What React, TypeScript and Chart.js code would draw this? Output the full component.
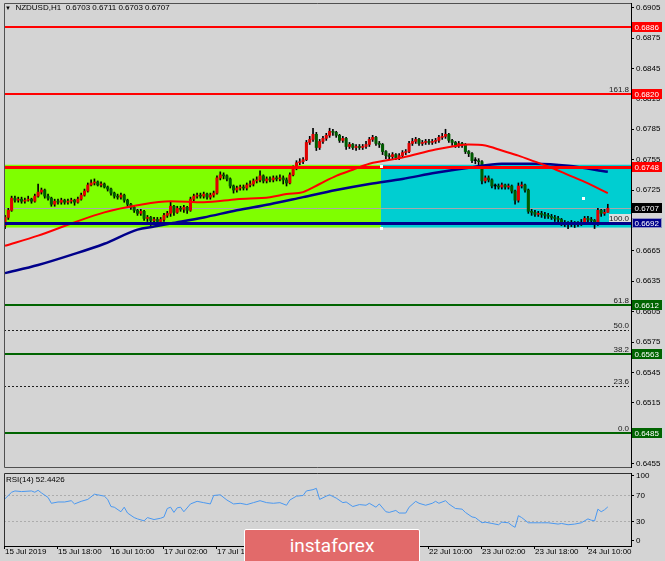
import React, { useEffect, useRef } from "react";
import { Chart, registerables } from "chart.js";

Chart.register(...registerables);

// ---------------- data ----------------
const openPrices = [
  0.6690,0.6698,0.6705,0.6717,0.6715,0.6716,0.6714,0.6715,0.6716,0.6714,
  0.6719,0.6723,0.6725,0.6719,0.6717,0.6711,0.6714,0.6713,0.6715,0.6713,
  0.6714,0.6715,0.6713,0.6716,0.6720,0.6724,0.6730,0.6732,0.6733,0.6730,
  0.6731,0.6728,0.6726,0.6722,0.6719,0.6718,0.6720,0.6715,0.6711,0.6708,
  0.6705,0.6702,0.6704,0.6697,0.6698,0.6695,0.6696,0.6694,0.6696,0.6700,
  0.6702,0.6709,0.6703,0.6707,0.6706,0.6708,0.6705,0.6716,0.6719,0.6720,
  0.6719,0.6721,0.6718,0.6720,0.6722,0.6737,0.6740,0.6739,0.6736,0.6729,
  0.6725,0.6727,0.6728,0.6727,0.6730,0.6731,0.6734,0.6735,0.6739,0.6734,
  0.6736,0.6735,0.6737,0.6736,0.6737,0.6735,0.6732,0.6740,0.6747,0.6752,
  0.6753,0.6755,0.6772,0.6775,0.6780,0.6767,0.6773,0.6776,0.6779,0.6783,
  0.6782,0.6779,0.6774,0.6776,0.6768,0.6770,0.6767,0.6768,0.6767,0.6768,
  0.6770,0.6775,0.6777,0.6771,0.6770,0.6763,0.6759,0.6758,0.6760,0.6757,
  0.6759,0.6762,0.6763,0.6771,0.6773,0.6775,0.6771,0.6772,0.6773,0.6772,
  0.6773,0.6774,0.6777,0.6778,0.6780,0.6774,0.6772,0.6769,0.6771,0.6770,
  0.6763,0.6761,0.6754,0.6754,0.6753,0.6734,0.6737,0.6735,0.6729,0.6729,
  0.6728,0.6730,0.6728,0.6729,0.6724,0.6715,0.6729,0.6730,0.6725,0.6704,
  0.6703,0.6701,0.6702,0.6701,0.6700,0.6699,0.6698,0.6697,0.6696,0.6693,
  0.6692,0.6692,0.6692,0.6691,0.6692,0.6693,0.6697,0.6696,0.6695,0.6692,
  0.6705,0.6702,0.6703,
];
const highPrices = [
  0.6700,0.6707,0.6719,0.6719,0.6718,0.6718,0.6717,0.6719,0.6717,0.6721,
  0.6731,0.6727,0.6726,0.6721,0.6718,0.6716,0.6716,0.6717,0.6716,0.6716,
  0.6717,0.6716,0.6718,0.6722,0.6726,0.6732,0.6735,0.6736,0.6734,0.6733,
  0.6732,0.6729,0.6727,0.6723,0.6721,0.6722,0.6721,0.6716,0.6712,0.6709,
  0.6706,0.6706,0.6705,0.6700,0.6699,0.6698,0.6698,0.6698,0.6702,0.6704,
  0.6713,0.6710,0.6709,0.6709,0.6710,0.6709,0.6718,0.6721,0.6722,0.6722,
  0.6723,0.6722,0.6722,0.6724,0.6739,0.6743,0.6742,0.6740,0.6737,0.6730,
  0.6729,0.6730,0.6730,0.6732,0.6734,0.6736,0.6738,0.6744,0.6740,0.6738,
  0.6738,0.6739,0.6739,0.6740,0.6739,0.6737,0.6742,0.6749,0.6754,0.6756,
  0.6757,0.6774,0.6778,0.6786,0.6782,0.6775,0.6778,0.6781,0.6786,0.6785,
  0.6783,0.6780,0.6778,0.6777,0.6772,0.6771,0.6770,0.6770,0.6770,0.6773,
  0.6777,0.6779,0.6778,0.6773,0.6771,0.6764,0.6761,0.6762,0.6761,0.6761,
  0.6764,0.6765,0.6773,0.6776,0.6777,0.6776,0.6774,0.6775,0.6775,0.6775,
  0.6776,0.6779,0.6781,0.6785,0.6781,0.6775,0.6773,0.6773,0.6772,0.6771,
  0.6764,0.6762,0.6757,0.6756,0.6754,0.6739,0.6739,0.6736,0.6731,0.6731,
  0.6732,0.6731,0.6731,0.6730,0.6725,0.6732,0.6733,0.6731,0.6726,0.6706,
  0.6705,0.6704,0.6704,0.6703,0.6702,0.6701,0.6700,0.6699,0.6697,0.6695,
  0.6694,0.6695,0.6694,0.6694,0.6696,0.6699,0.6699,0.6698,0.6696,0.6707,
  0.6706,0.6706,0.6711,
];
const lowPrices = [
  0.6687,0.6696,0.6704,0.6713,0.6713,0.6712,0.6712,0.6714,0.6712,0.6713,
  0.6718,0.6721,0.6717,0.6715,0.6709,0.6709,0.6711,0.6711,0.6711,0.6711,
  0.6712,0.6710,0.6712,0.6715,0.6719,0.6723,0.6729,0.6730,0.6729,0.6728,
  0.6727,0.6724,0.6720,0.6717,0.6716,0.6716,0.6713,0.6709,0.6706,0.6703,
  0.6700,0.6700,0.6695,0.6694,0.6690,0.6692,0.6689,0.6692,0.6694,0.6698,
  0.6699,0.6700,0.6702,0.6704,0.6703,0.6702,0.6704,0.6714,0.6717,0.6717,
  0.6717,0.6716,0.6716,0.6718,0.6721,0.6735,0.6736,0.6734,0.6727,0.6722,
  0.6723,0.6725,0.6725,0.6725,0.6728,0.6729,0.6732,0.6733,0.6732,0.6732,
  0.6733,0.6733,0.6734,0.6734,0.6731,0.6729,0.6731,0.6739,0.6745,0.6750,
  0.6751,0.6754,0.6770,0.6773,0.6764,0.6765,0.6771,0.6774,0.6777,0.6779,
  0.6777,0.6772,0.6772,0.6765,0.6766,0.6765,0.6764,0.6765,0.6765,0.6766,
  0.6768,0.6773,0.6769,0.6767,0.6760,0.6756,0.6755,0.6756,0.6755,0.6755,
  0.6757,0.6760,0.6762,0.6769,0.6771,0.6769,0.6769,0.6770,0.6770,0.6770,
  0.6771,0.6772,0.6775,0.6776,0.6772,0.6769,0.6767,0.6767,0.6767,0.6761,
  0.6758,0.6752,0.6751,0.6750,0.6731,0.6732,0.6733,0.6727,0.6726,0.6726,
  0.6726,0.6726,0.6726,0.6722,0.6711,0.6713,0.6727,0.6723,0.6702,0.6700,
  0.6699,0.6699,0.6698,0.6697,0.6697,0.6696,0.6694,0.6693,0.6690,0.6689,
  0.6687,0.6689,0.6688,0.6689,0.6690,0.6691,0.6693,0.6692,0.6687,0.6690,
  0.6699,0.6700,0.6703,
];
const closePrices = [
  0.6698,0.6705,0.6717,0.6715,0.6716,0.6714,0.6715,0.6716,0.6714,0.6719,
  0.6723,0.6725,0.6719,0.6717,0.6711,0.6714,0.6713,0.6715,0.6713,0.6714,
  0.6715,0.6713,0.6716,0.6720,0.6724,0.6730,0.6732,0.6733,0.6730,0.6731,
  0.6728,0.6726,0.6722,0.6719,0.6718,0.6720,0.6715,0.6711,0.6708,0.6705,
  0.6702,0.6704,0.6697,0.6698,0.6695,0.6696,0.6694,0.6696,0.6700,0.6702,
  0.6709,0.6703,0.6707,0.6706,0.6708,0.6705,0.6716,0.6719,0.6720,0.6719,
  0.6721,0.6718,0.6720,0.6722,0.6737,0.6740,0.6739,0.6736,0.6729,0.6725,
  0.6727,0.6728,0.6727,0.6730,0.6731,0.6734,0.6735,0.6739,0.6734,0.6736,
  0.6735,0.6737,0.6736,0.6737,0.6735,0.6732,0.6740,0.6747,0.6752,0.6753,
  0.6755,0.6772,0.6775,0.6780,0.6767,0.6773,0.6776,0.6779,0.6783,0.6782,
  0.6779,0.6774,0.6776,0.6768,0.6770,0.6767,0.6768,0.6767,0.6768,0.6770,
  0.6775,0.6777,0.6771,0.6770,0.6763,0.6759,0.6758,0.6760,0.6757,0.6759,
  0.6762,0.6763,0.6771,0.6773,0.6775,0.6771,0.6772,0.6773,0.6772,0.6773,
  0.6774,0.6777,0.6778,0.6780,0.6774,0.6772,0.6769,0.6771,0.6770,0.6763,
  0.6761,0.6754,0.6754,0.6753,0.6734,0.6737,0.6735,0.6729,0.6729,0.6728,
  0.6730,0.6728,0.6729,0.6724,0.6715,0.6729,0.6730,0.6725,0.6704,0.6703,
  0.6701,0.6702,0.6701,0.6700,0.6699,0.6698,0.6697,0.6696,0.6693,0.6692,
  0.6692,0.6692,0.6691,0.6692,0.6693,0.6697,0.6696,0.6695,0.6692,0.6705,
  0.6702,0.6703,0.6707,
];

const maRedBars = [0,10,20,30,40,50,60,70,80,85,90,95,100,105,110,120,130,135,140,145,150,155,160,165,170,175,182];
const maRedValues = [0.6670,0.6680,0.6692,0.6703,0.6710,0.6714,0.6713,0.6716,0.6718,0.6721,0.6723,0.6731,0.6739,0.6745,0.6751,0.6757,0.6765,0.6768,0.6770,0.6769,0.6764,0.6759,0.6753,0.6747,0.6740,0.6733,0.6722];
const maBlueBars = [0,10,20,30,40,45,50,60,70,80,90,100,110,120,130,140,150,160,170,182];
const maBlueValues = [0.6643,0.6651,0.6661,0.6672,0.6686,0.6689,0.6692,0.6698,0.6705,0.6711,0.6718,0.6725,0.6731,0.6736,0.6742,0.6747,0.6751,0.6751,0.6749,0.6743];

const rsiBars = [0,2,3,5,8,9,10,11,13,14,16,18,20,21,23,25,27,28,30,31,32,33,35,36,37,39,40,42,43,45,47,48,49,50,51,52,53,54,56,58,60,62,63,65,67,69,71,73,75,77,79,81,83,85,86,88,90,91,93,94,95,97,98,100,102,103,105,107,109,110,112,113,115,116,118,119,121,122,124,125,127,129,130,131,133,134,136,138,139,141,142,144,145,147,149,150,152,153,154,155,156,158,161,162,164,167,168,170,172,174,176,177,178,179,180,181,182];
const rsiValues = [65,75,77,76,77,75,78,74,67,58,60,60,62,57,61,64,72,71,69,64,53,52,45,52,43,36,34,31,36,33,35,37,50,52,44,51,52,45,57,61,59,57,70,71,63,57,58,56,59,62,59,58,59,55,63,69,70,77,79,81,64,69,71,66,59,60,53,56,55,58,52,57,45,44,47,43,43,52,61,58,55,58,61,58,62,57,50,49,44,37,36,28,29,27,25,29,28,24,21,39,36,28,28,28,28,26,27,25,26,28,34,32,31,49,45,48,52.4426];

const timeTickBars = [0,16,32,48,64,80,96,112,128,144,160,176];
const timeTickLabels = ["15 Jul 2019","15 Jul 18:00","16 Jul 10:00","17 Jul 02:00","17 Jul 18:00","18 Jul 10:00","19 Jul 02:00","19 Jul 18:00","22 Jul 10:00","23 Jul 02:00","23 Jul 18:00","24 Jul 10:00"];
const priceTicks = [0.6905,0.6875,0.6845,0.6815,0.6785,0.6755,0.6725,0.6695,0.6665,0.6635,0.6605,0.6575,0.6545,0.6515,0.6485,0.6455];
const rsiTicks = [100,70,30,0];
const rsiLevels = [70,30];

const resistanceLevels = [0.6886,0.6820,0.6748];
const supportLevels = [0.6692];
const fiboSupportLevels = [0.6612,0.6563,0.6485];
const fibLabels = ["161.8","100.0","61.8","50.0","38.2","23.6","0.0"];
const fibPrices = [0.6820,0.6692,0.6612,0.6587,0.6563,0.6532,0.6485];
const lastPrice = 0.6707;
const zoneBars = [-0.3,113.5,189];
const zonePrices = [0.6750,0.6688];
const anchorBars = [113.5,113.5,174.5];
const anchorPrices = [0.6749,0.6688,0.6717];

const barRange = [-0.3,189];
const priceRange = [0.64517,0.69096];
const rsiRange = [-7.7,104.6];

// ---------------- styles ----------------
const FONT = '"Liberation Sans", Arial, sans-serif';
const UP = "#e00000";
const DOWN = "#005c00";
const RED = "#ff0000";
const GREEN = "#006400";
const NAVY = "#00008b";

function hline(ctx: CanvasRenderingContext2D, x0: number, x1: number, yv: number, color: string, width: number, dash: number[] = []) {
  ctx.save();
  ctx.beginPath();
  ctx.strokeStyle = color;
  ctx.lineWidth = width;
  ctx.setLineDash(dash);
  const yy = width % 2 === 1 ? Math.round(yv) + 0.5 : Math.round(yv);
  ctx.moveTo(x0, yy);
  ctx.lineTo(x1, yy);
  ctx.stroke();
  ctx.restore();
}

function tag(ctx: CanvasRenderingContext2D, x: number, yv: number, text: string, bg: string, border?: string) {
  const yy = Math.round(yv);
  ctx.fillStyle = bg;
  ctx.fillRect(x, yy - 5, 30, 10);
  if (border) {
    ctx.strokeStyle = border;
    ctx.lineWidth = 1;
    ctx.strokeRect(x + 0.5, yy - 4.5, 29, 9);
  }
  ctx.fillStyle = "#ffffff";
  ctx.font = `8px ${FONT}`;
  ctx.textAlign = "left";
  ctx.textBaseline = "middle";
  ctx.fillText(text, x + 2.5, yy + 0.5);
}

const zeroPad = (s: any) => {
  s.paddingTop = 0;
  s.paddingBottom = 0;
  s.paddingLeft = 0;
  s.paddingRight = 0;
};

const mainOverlay = {
  id: "mainOverlay",
  beforeDatasetsDraw(chart: any) {
    const { ctx, chartArea: a, scales } = chart;
    const x = scales.x, y = scales.y;
    ctx.save();
    const yt = y.getPixelForValue(zonePrices[0]);
    const yb = y.getPixelForValue(zonePrices[1]);
    const x0 = x.getPixelForValue(zoneBars[0]);
    const x1 = x.getPixelForValue(zoneBars[1]);
    const x2 = x.getPixelForValue(zoneBars[2]);
    ctx.fillStyle = "#7fff00";
    ctx.fillRect(x0, yt, x1 - x0, yb - yt);
    ctx.fillStyle = "#00ced1";
    ctx.fillRect(x1, yt, x2 - x1, yb - yt);
    hline(ctx, a.left, a.right, y.getPixelForValue(lastPrice), "#a8a8a8", 1);
    fibPrices.forEach((p) => hline(ctx, a.left, a.right - 2, y.getPixelForValue(p), "#202020", 1, [2, 2]));
    ctx.restore();
  },
  afterDatasetsDraw(chart: any) {
    const { ctx, chartArea: a, scales } = chart;
    const x = scales.x, y = scales.y;
    ctx.save();
    resistanceLevels.forEach((p, i) =>
      hline(ctx, a.left, a.right, y.getPixelForValue(p), RED, i === 2 ? 3 : 2)
    );
    supportLevels.forEach((p) => hline(ctx, a.left, a.right, y.getPixelForValue(p), NAVY, 3));
    fiboSupportLevels.forEach((p) => hline(ctx, a.left, a.right, y.getPixelForValue(p), GREEN, 2));
    ctx.font = `8px ${FONT}`;
    ctx.textAlign = "right";
    ctx.textBaseline = "alphabetic";
    fibLabels.forEach((t, i) => {
      const py = Math.round(y.getPixelForValue(fibPrices[i]));
      if (t === "100.0") {
        ctx.fillStyle = "#dedede";
        ctx.fillRect(a.right - 22, py - 9, 22, 8);
      }
      ctx.fillStyle = "#202020";
      ctx.fillText(t, a.right - 2, py - 2);
    });
    ctx.fillStyle = "#ffffff";
    anchorBars.forEach((b, i) => {
      const px = x.getPixelForValue(b);
      const py = y.getPixelForValue(anchorPrices[i]);
      ctx.fillRect(Math.round(px) - 1, Math.round(py) - 1, 3, 3);
    });
    ctx.restore();
  },
  afterDraw(chart: any) {
    const { ctx, chartArea: a, scales } = chart;
    const y = scales.y;
    ctx.save();
    ctx.strokeStyle = "#505050";
    ctx.lineWidth = 1;
    ctx.beginPath();
    ctx.moveTo(a.right, a.top + 0.5);
    ctx.lineTo(a.left + 0.5, a.top + 0.5);
    ctx.lineTo(a.left + 0.5, a.bottom + 0.5);
    ctx.lineTo(a.right, a.bottom + 0.5);
    ctx.stroke();
    const bx = a.right + 1;
    resistanceLevels.forEach((p) => tag(ctx, bx, y.getPixelForValue(p), p.toFixed(4), RED));
    tag(ctx, bx, y.getPixelForValue(lastPrice), lastPrice.toFixed(4), "#000000");
    supportLevels.forEach((p) => tag(ctx, bx, y.getPixelForValue(p), p.toFixed(4), NAVY, "#9090c0"));
    fiboSupportLevels.forEach((p) => tag(ctx, bx, y.getPixelForValue(p), p.toFixed(4), GREEN));
    ctx.restore();
  },
};

const rsiOverlay = {
  id: "rsiOverlay",
  beforeDatasetsDraw(chart: any) {
    const { ctx, chartArea: a, scales } = chart;
    rsiLevels.forEach((v) => hline(ctx, a.left, a.right, scales.y.getPixelForValue(v), "#acacac", 1, [2, 2]));
  },
  afterDraw(chart: any) {
    const { ctx, chartArea: a } = chart;
    ctx.save();
    ctx.strokeStyle = "#303030";
    ctx.lineWidth = 1;
    ctx.beginPath();
    ctx.moveTo(a.right, a.top + 0.5);
    ctx.lineTo(a.left + 0.5, a.top + 0.5);
    ctx.lineTo(a.left + 0.5, a.bottom);
    ctx.stroke();
    ctx.restore();
  },
};

const axisFont = { family: FONT, size: 8 };

export default function App() {
  const mainRef = useRef<HTMLCanvasElement>(null);
  const rsiRef = useRef<HTMLCanvasElement>(null);

  useEffect(() => {
    const bodyData = closePrices.map((c, i) => ({ x: i, y: [openPrices[i], c] }));
    const wickData = closePrices.map((_, i) => ({ x: i, y: [lowPrices[i], highPrices[i]] }));
    const bodyColors = closePrices.map((c, i) => (c > openPrices[i] ? UP : c < openPrices[i] ? DOWN : "#000000"));
    const redMa = maRedBars.map((b, i) => ({ x: b, y: maRedValues[i] }));
    const blueMa = maBlueBars.map((b, i) => ({ x: b, y: maBlueValues[i] }));
    const rsiData = rsiBars.map((b, i) => ({ x: b, y: rsiValues[i] }));

    const main = new Chart(mainRef.current as HTMLCanvasElement, {
      type: "bar",
      data: {
        datasets: [
          { type: "line", data: redMa, borderColor: RED, borderWidth: 2, pointRadius: 0, cubicInterpolationMode: "monotone", order: 0 } as any,
          { type: "line", data: blueMa, borderColor: NAVY, borderWidth: 2.5, pointRadius: 0, cubicInterpolationMode: "monotone", order: 0 } as any,
          { type: "bar", data: bodyData, backgroundColor: bodyColors, barThickness: 2.4, grouped: false, minBarLength: 1, order: 1 } as any,
          { type: "bar", data: wickData, backgroundColor: "#000000", barThickness: 1, grouped: false, order: 2 } as any,
        ],
      },
      options: {
        responsive: false,
        animation: false,
        events: [],
        layout: { padding: { left: 4, top: 3, right: 0, bottom: 2 } },
        plugins: { legend: { display: false }, tooltip: { enabled: false } },
        scales: {
          x: {
            type: "linear",
            display: false,
            min: barRange[0],
            max: barRange[1],
            offset: false,
            grid: { offset: false },
          },
          y: {
            type: "linear",
            position: "right",
            min: priceRange[0],
            max: priceRange[1],
            beginAtZero: false,
            afterFit: (s: any) => { s.width = 34; zeroPad(s); },
            afterBuildTicks: (s: any) => { s.ticks = priceTicks.map((v) => ({ value: v })); },
            grid: { drawOnChartArea: false, tickLength: 3, color: "#000000" },
            border: { display: true, color: "#000000", width: 1 },
            ticks: {
              autoSkip: false,
              padding: 2,
              color: "#000000",
              font: axisFont,
              callback: (v: any) => Number(v).toFixed(4),
            },
          },
        },
      } as any,
      plugins: [mainOverlay],
    });

    const rsi = new Chart(rsiRef.current as HTMLCanvasElement, {
      type: "line",
      data: {
        datasets: [
          { data: rsiData, borderColor: "#4a98f0", borderWidth: 1, pointRadius: 0, tension: 0 },
        ],
      },
      options: {
        responsive: false,
        animation: false,
        events: [],
        layout: { padding: { left: 4, top: 4, right: 0, bottom: 0 } },
        plugins: { legend: { display: false }, tooltip: { enabled: false } },
        scales: {
          x: {
            type: "linear",
            position: "bottom",
            min: barRange[0],
            max: barRange[1],
            offset: false,
            afterFit: (s: any) => { s.height = 15; zeroPad(s); },
            afterBuildTicks: (s: any) => { s.ticks = timeTickBars.map((v) => ({ value: v })); },
            grid: { drawOnChartArea: false, tickLength: 3, color: "#000000", offset: false },
            border: { display: true, color: "#000000" },
            ticks: {
              autoSkip: false,
              maxRotation: 0,
              minRotation: 0,
              align: "start",
              padding: -2,
              color: "#000000",
              font: axisFont,
              callback: (_v: any, i: number) => timeTickLabels[i],
            },
          },
          y: {
            type: "linear",
            position: "right",
            min: rsiRange[0],
            max: rsiRange[1],
            afterFit: (s: any) => { s.width = 34; zeroPad(s); },
            afterBuildTicks: (s: any) => { s.ticks = rsiTicks.map((v) => ({ value: v })); },
            grid: { drawOnChartArea: false, tickLength: 3, color: "#000000" },
            border: { display: true, color: "#000000" },
            ticks: { autoSkip: false, padding: 2, color: "#000000", font: axisFont, callback: (v: any) => String(v) },
          },
        },
      } as any,
      plugins: [rsiOverlay],
    });

    return () => {
      main.destroy();
      rsi.destroy();
    };
  }, []);

  return (
    <div
      style={{
        position: "absolute",
        left: 0,
        top: 0,
        width: 665,
        height: 561,
        background: "#d4d4d4",
        overflow: "hidden",
        fontFamily: FONT,
        color: "#000",
      }}
    >
      <canvas ref={mainRef} width={665} height={469} style={{ position: "absolute", left: 0, top: 0 }} />
      <canvas ref={rsiRef} width={665} height={92} style={{ position: "absolute", left: 0, top: 469 }} />
      <div style={{ position: "absolute", left: 5, top: 3, fontSize: 8, lineHeight: "10px", whiteSpace: "pre" }}>
        <span style={{ fontSize: 6 }}>▼</span>
        {"  NZDUSD,H1  0.6703 0.6711 0.6703 0.6707"}
      </div>
      <div style={{ position: "absolute", left: 6, top: 475, fontSize: 8, lineHeight: "10px", whiteSpace: "pre" }}>
        RSI(14) 52.4426
      </div>
      <div
        style={{
          position: "absolute",
          left: 244,
          top: 529,
          width: 176,
          height: 40,
          background: "#e26a6a",
          border: "1.5px solid #ffffff",
          borderRadius: 2,
          color: "#ffffff",
          fontFamily: "Roboto, sans-serif",
          fontSize: 19,
          lineHeight: "24px",
          textAlign: "center",
          paddingTop: 4,
          boxSizing: "border-box",
        }}
      >
        instaforex
      </div>
    </div>
  );
}
